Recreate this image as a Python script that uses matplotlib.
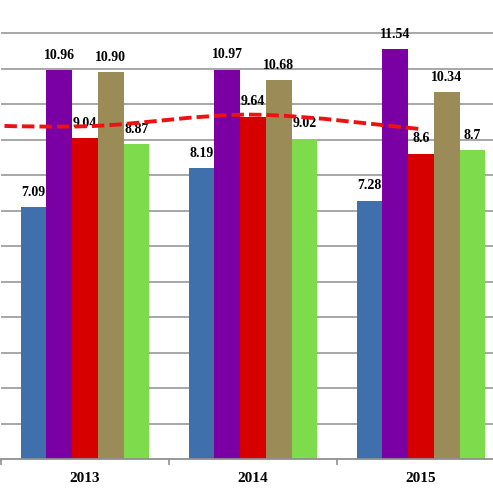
import matplotlib
matplotlib.use("Agg")
import matplotlib.pyplot as plt
from matplotlib.path import Path
from matplotlib.patches import PathPatch
import numpy as np

years = ["2013", "2014", "2015"]
series_a = [7.09, 8.19, 7.28]
series_b = [10.96, 10.97, 11.54]
series_c = [9.04, 9.64, 8.6]
series_d = [10.90, 10.68, 10.34]
series_e = [8.87, 9.02, 8.7]
label_c = ["9.04", "9.64", "8.6"]
label_d = ["10.90", "10.68", "10.34"]
label_e = ["8.87", "9.02", "8.7"]
# average line (previous year value lies outside the visible crop)
avg_prev = 9.45
colors = ["#4070ab", "#7a00a3", "#d60000", "#9a8b57", "#7ddb4c"]

fig = plt.figure(figsize=(4.93, 4.94), dpi=100)
W, H = 493, 494
base_px = 459
unit_px = 35.5
ax = fig.add_axes([1 / W, (H - base_px) / H, (W - 1) / W, base_px / H])
cat_px = 168

x = np.arange(len(years))
bw = 0.153
all_series = [series_a, series_b, series_c, series_d, series_e]
all_labels = [[f"{v:.2f}" for v in series_a], [f"{v:.2f}" for v in series_b],
              label_c, label_d, label_e]
for i, (s, lab) in enumerate(zip(all_series, all_labels)):
    xs = x + (i - 2) * bw
    ax.bar(xs, s, width=bw, color=colors[i], edgecolor="none", zorder=2)
    for xi, v, t in zip(xs, s, lab):
        ax.annotate(t, (xi, v), xytext=(0, 6), textcoords="offset points",
                    ha="center", va="bottom", fontsize=10, fontweight="bold",
                    family="Liberation Serif", zorder=3)

# smoothed average line (Catmull-Rom -> Bezier)
avg = [np.mean([s[k] for s in all_series]) for k in range(len(years))]
px = np.array([-1.0] + list(x), dtype=float)
py = np.array([avg_prev] + avg)
verts = [(px[0], py[0])]
codes = [Path.MOVETO]
n = len(px)
for k in range(n - 1):
    p0 = np.array([px[max(k - 1, 0)], py[max(k - 1, 0)]])
    p1 = np.array([px[k], py[k]])
    p2 = np.array([px[k + 1], py[k + 1]])
    p3 = np.array([px[min(k + 2, n - 1)], py[min(k + 2, n - 1)]])
    c1 = p1 + (p2 - p0) / 6
    c2 = p2 - (p3 - p1) / 6
    verts += [tuple(c1), tuple(c2), tuple(p2)]
    codes += [Path.CURVE4] * 3
patch = PathPatch(Path(verts, codes), facecolor="none", edgecolor="#ee1111",
                  lw=2.8, linestyle=(0, (3.2, 1.3)), zorder=4, clip_on=True)
ax.add_patch(patch)

ax.set_yticks(np.arange(1, 13))
ax.yaxis.grid(True, color="#a0a0a0", lw=1.3, zorder=0)
ax.set_axisbelow(True)
ax.tick_params(axis="y", left=False, labelleft=False)
for sp in ["left", "right", "top"]:
    ax.spines[sp].set_visible(False)
ax.spines["bottom"].set_color("#909090")
ax.spines["bottom"].set_linewidth(1.3)

ax.set_xticks(x)
ax.set_xticklabels(years, fontsize=11, fontweight="bold", family="Liberation Serif")
ax.tick_params(axis="x", length=0, pad=9)
ax.set_xticks(np.arange(-0.5, 2.4, 1.0), minor=True)
ax.tick_params(axis="x", which="minor", length=4, color="#909090", width=1.2)

ax.set_ylim(0, base_px / unit_px)
ax.set_xlim(-0.5, -0.5 + (W - 1) / cat_px)

fig.savefig("out.png", dpi=100)
